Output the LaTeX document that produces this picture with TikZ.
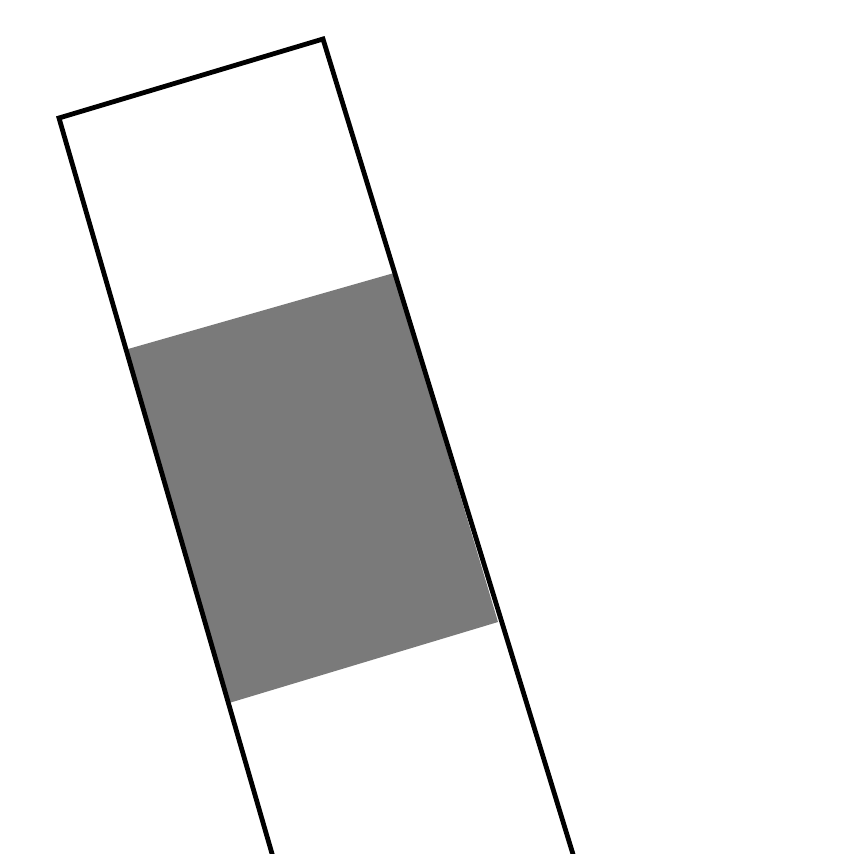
\documentclass[tikz,border=0pt]{standalone}
\begin{document}
\begin{tikzpicture}[x=1pt,y=-1pt,
  outline/.style={draw=black,line width=4.8pt,line join=miter},
  band/.style={fill=black!52,draw=none}]
\useasboundingbox (0,0) rectangle (848,854);
\begin{scope}
\clip (0,0) rectangle (848,854);
\coordinate (tl) at (59,118);
\coordinate (tr) at (323,39);
\coordinate (br) at (576,864);
\coordinate (bl) at (275,864);
\fill[band] (128,349) -- (394,273) -- (498,622) -- (229,703) -- cycle;
\draw[outline] (bl) -- (tl) -- (tr) -- (br);
\end{scope}
\end{tikzpicture}
\end{document}
